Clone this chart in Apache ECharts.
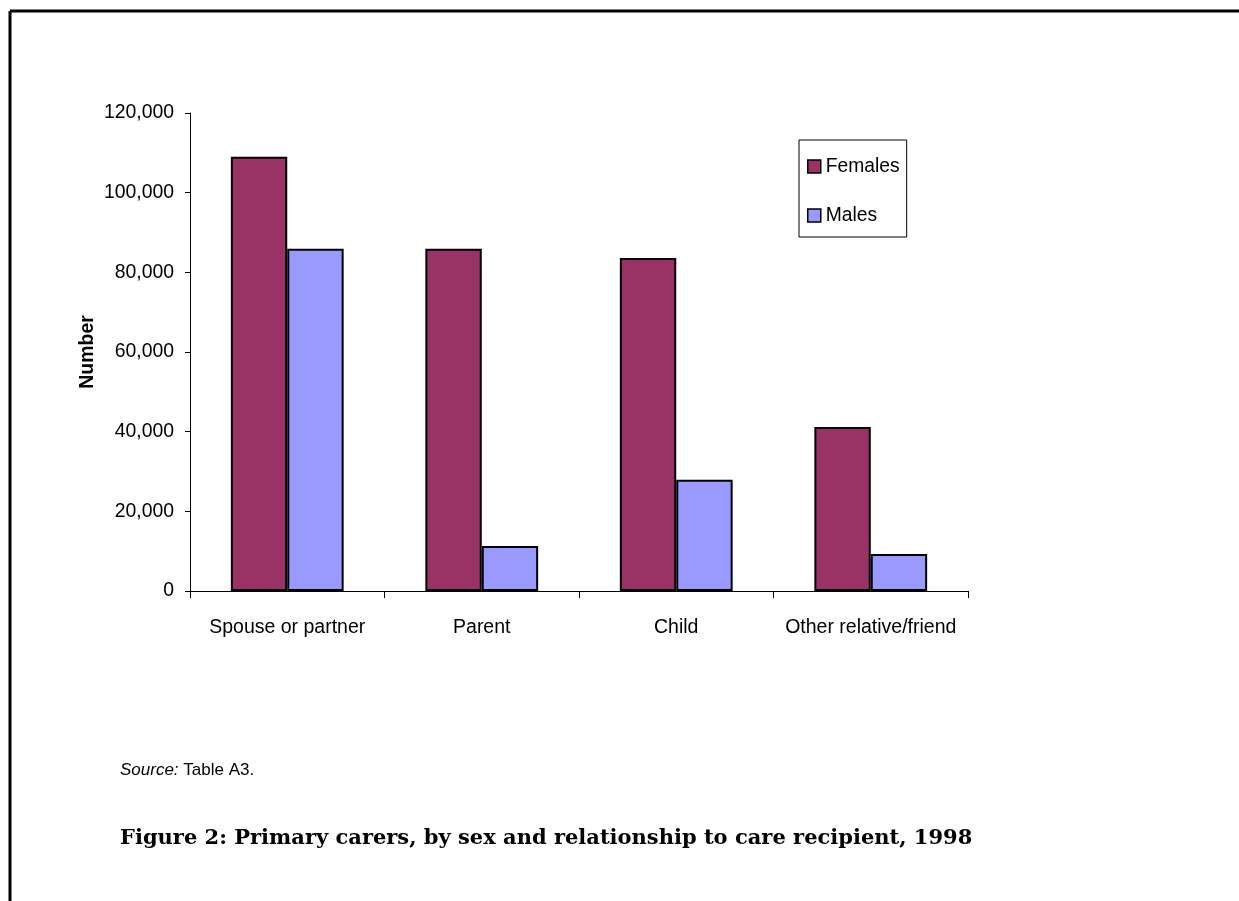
<!DOCTYPE html>
<html>
<head>
<meta charset="utf-8">
<script src="https://cdn.jsdelivr.net/npm/echarts@6/dist/echarts.min.js"></script>
<style>
html,body{margin:0;padding:0;background:#fff;}
#chart{width:1239px;height:901px;}
</style>
</head>
<body>
<div id="chart"></div>
<script>
const categories = ['Spouse or partner', 'Parent', 'Child', 'Other relative/friend'];
const females = [109000, 85900, 83600, 41200];
const males = [85900, 11300, 27900, 9300];
const yTicks = [0, 20000, 40000, 60000, 80000, 100000, 120000];
const seriesNames = ['Females', 'Males'];
const axisTitle = 'Number';
const sourceLabel = 'Source:';
const sourceText = ' Table A3.';
const figureTitle = 'Figure 2: Primary carers, by sex and relationship to care recipient, 1998';

const chart = echarts.init(document.getElementById('chart'), null, {renderer: 'canvas'});
const font = 'Liberation Sans, Arial, sans-serif';
const option = {
  animation: false,
  backgroundColor: '#fff',
  textStyle: {fontFamily: font},
  grid: {left: 190, right: 271, top: 113, bottom: 310, containLabel: false},
  legend: {
    orient: 'vertical',
    left: 799, top: 140,
    padding: [17, 7, 12, 8],
    itemGap: 30,
    itemWidth: 13, itemHeight: 13,
    itemTextGap: 6,
    borderColor: '#000', borderWidth: 1,
    icon: 'rect',
    itemStyle: {borderColor: '#000', borderWidth: 1.5},
    textStyle: {fontFamily: font, fontSize: 19.3, color: '#000', lineHeight: 19},
    data: seriesNames
  },
  xAxis: {
    type: 'category',
    data: categories,
    axisLine: {lineStyle: {color: '#000', width: 1}},
    axisTick: {show: true, length: 7, alignWithLabel: false, lineStyle: {color: '#000'}},
    axisLabel: {fontFamily: font, fontSize: 19.5, color: '#000', margin: 27, interval: 0}
  },
  yAxis: {
    type: 'value',
    min: yTicks[0], max: yTicks[yTicks.length - 1], interval: 20000,
    splitLine: {show: false},
    axisLine: {show: true, lineStyle: {color: '#000', width: 1}},
    axisTick: {show: true, length: 5, inside: false, lineStyle: {color: '#000'}},
    axisLabel: {
      fontFamily: font, fontSize: 19.4, color: '#000', margin: 16,
      formatter: v => v.toLocaleString('en-US')
    }
  },
  series: [
    {
      name: seriesNames[0], type: 'bar', data: females,
      barGap: '0%', barCategoryGap: '42%',
      itemStyle: {color: '#993366', borderColor: '#000', borderWidth: 2}
    },
    {
      name: seriesNames[1], type: 'bar', data: males,
      barGap: '0%', barCategoryGap: '42%',
      itemStyle: {color: '#9999FF', borderColor: '#000', borderWidth: 2}
    }
  ],
  graphic: [
    {type: 'line', shape: {x1: 10, y1: 11, x2: 1239, y2: 11}, style: {stroke: '#000', lineWidth: 3}},
    {type: 'line', shape: {x1: 10, y1: 11, x2: 10, y2: 901}, style: {stroke: '#000', lineWidth: 3}},
    {
      type: 'text', x: 88, y: 352, rotation: Math.PI / 2,
      style: {text: axisTitle, font: 'bold 19.5px ' + font, fill: '#000', textAlign: 'center', textVerticalAlign: 'middle'}
    },
    {
      type: 'text', left: 120, top: 762,
      style: {
        text: '{i|' + sourceLabel + '}{n|' + sourceText + '}',
        rich: {
          i: {fontFamily: font, fontSize: 17, fontStyle: 'italic', fill: '#000'},
          n: {fontFamily: font, fontSize: 17, fill: '#000'}
        }
      }
    },
    {
      type: 'text', left: 120, top: 828,
      style: {text: figureTitle, font: 'bold 21px "DejaVu Serif", serif', fill: '#000'}
    }
  ]
};
chart.setOption(option);
</script>
</body>
</html>
